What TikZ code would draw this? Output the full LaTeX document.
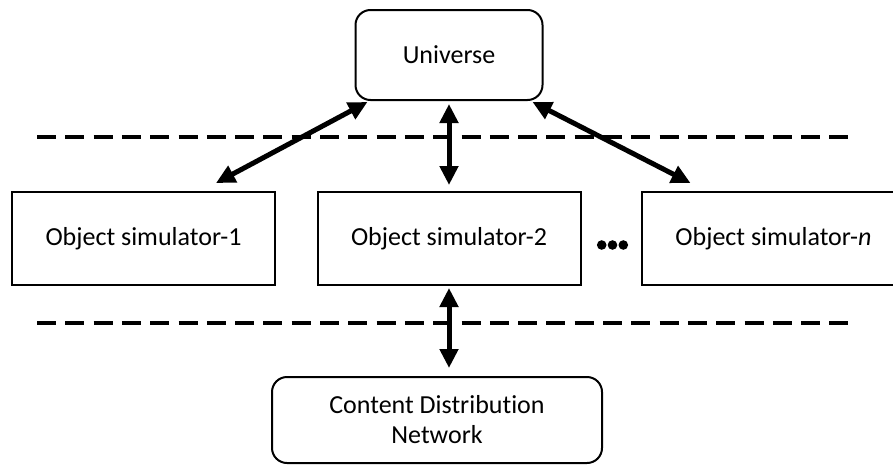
\documentclass[tikz,border=0pt]{standalone}
\usepackage{fontspec}
\setmainfont{Carlito}[Ligatures=NoCommon]
\usetikzlibrary{arrows.meta,calc}

\tikzset{
  lbl/.style={font=\fontsize{26}{30}\selectfont, align=center, inner sep=0pt},
  simbox/.style={lbl, draw, line width=2pt, minimum width=263pt, minimum height=93pt},
  roundbox/.style={lbl, draw, line width=2pt, rounded corners=15pt},
  biarrow/.style={line width=5pt, {Triangle[length=19pt,width=18pt]}-{Triangle[length=19pt,width=18pt]}},
  divider/.style={line width=4pt, dash pattern=on 19pt off 9.3pt}
}

\begin{document}
\begin{tikzpicture}[x=1pt, y=-1pt]
  \useasboundingbox (0,0) rectangle (893,466);
  \fill[white] (0,0) rectangle (893,466);
  \clip (0,0) rectangle (893,466);

  % layer separators
  \draw[divider] (37,137) -- (850,137);
  \draw[divider] (37,323) -- (850,323);

  % nodes
  \node[roundbox, minimum width=187pt, minimum height=90pt] (u) at (449,55) {Universe};
  \node[simbox] (o1) at (143.5,238.5) {Object simulator-1};
  \node[simbox] (o2) at (449,238.5) {Object simulator-2};
  \node[simbox] (on) at (773.5,238.5) {Object simulator-\textit{n}};
  \node[roundbox, minimum width=330pt, minimum height=86pt] (cdn) at (437,420)
    {Content Distribution\\Network};

  % ellipsis between the simulators
  \foreach \cx in {601.7, 612.5, 623.3}
    \fill (\cx,245) circle (4.8pt);

  % connectors
  \draw[biarrow] ([shift={(13,1)}]u.south west) -- ([shift={(72.5,-8)}]o1.north);
  \draw[biarrow] ([shift={(0,3)}]u.south) -- ([shift={(0,-6)}]o2.north);
  \draw[biarrow] ([shift={(-11,1)}]u.south east) -- ([shift={(-83,-8)}]on.north);
  \draw[biarrow] ([shift={(0,2)}]o2.south) -- ($(o2.south |- cdn.north)+(0,-8)$);
\end{tikzpicture}
\end{document}
